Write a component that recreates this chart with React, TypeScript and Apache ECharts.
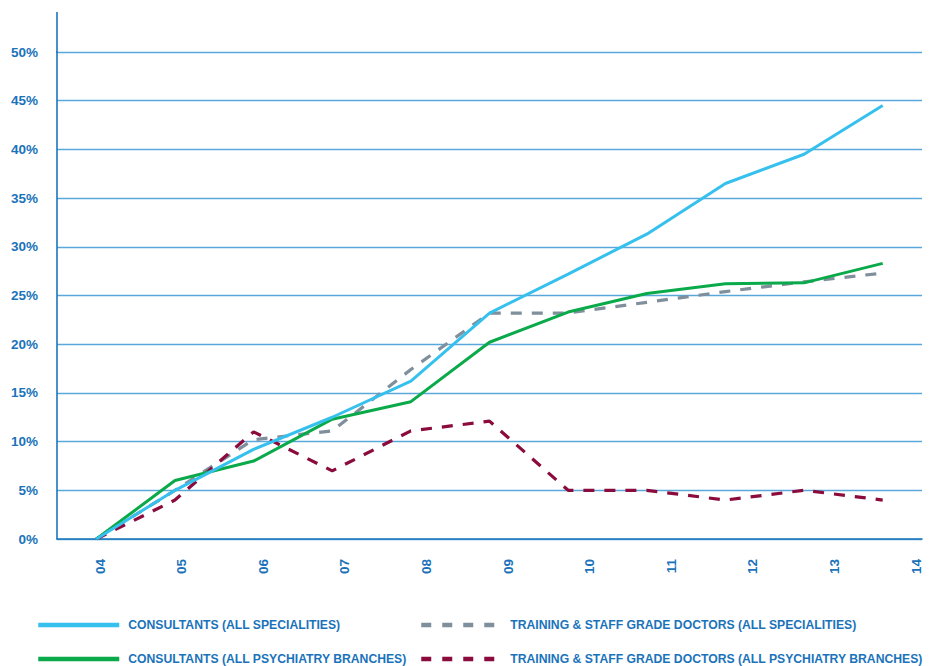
import React, { useEffect, useRef } from "react";
import * as echarts from "echarts";

const years = ["04", "05", "06", "07", "08", "09", "10", "11", "12", "13", "14"];
const yTickLabels = ["0%", "5%", "10%", "15%", "20%", "25%", "30%", "35%", "40%", "45%", "50%"];

const nameConsAll = "CONSULTANTS (ALL SPECIALITIES)";
const nameConsPsych = "CONSULTANTS (ALL PSYCHIATRY BRANCHES)";
const nameTrainAll = "TRAINING & STAFF GRADE DOCTORS (ALL SPECIALITIES)";
const nameTrainPsych = "TRAINING & STAFF GRADE DOCTORS (ALL PSYCHIATRY BRANCHES)";

const consAll = [0, 5.0, 9.2, 12.5, 16.2, 23.2, 27.2, 31.3, 36.5, 39.5, 44.5];
const consPsych = [0, 6.0, 8.0, 12.3, 14.1, 20.2, 23.3, 25.2, 26.2, 26.3, 28.3];
const trainAll = [0, 5.0, 10.2, 11.1, 17.4, 23.2, 23.2, 24.3, 25.4, 26.4, 27.3];
const trainPsych = [0, 4.0, 11.0, 7.0, 11.1, 12.1, 5.0, 5.0, 4.0, 5.0, 4.0];

const C_CYAN = "#35c0ee";
const C_GREEN = "#0aa94a";
const C_GRAY = "#7f8f9b";
const C_MAROON = "#8a0b3c";
const C_AXIS = "#1b75bb";
const C_GRID = "#5aa7d9";
const C_TEXT = "#1a73ba";
const FONT = "'Liberation Sans', Arial, sans-serif";

function legendItem(name: string, left: number, top: number, width: number, gap: number, dashType?: number[]) {
  return {
    orient: "horizontal",
    left,
    top,
    itemWidth: width,
    itemHeight: 12,
    padding: 0,
    selectedMode: false,
    data: [name],
    lineStyle: dashType ? { width: 4.5, type: dashType } : { width: 4.5 },
    itemStyle: { opacity: 0 },
    textStyle: {
      color: C_TEXT,
      fontFamily: FONT,
      fontWeight: "bold",
      fontSize: 12.2,
      lineHeight: 12,
      padding: [0, 0, 0, gap],
    },
  };
}

export default function App() {
  const ref = useRef<HTMLDivElement>(null);

  useEffect(() => {
    if (!ref.current) return;
    const chart = echarts.init(ref.current, undefined, { renderer: "svg" });
    const dash = [11, 10];
    const option: any = {
      animation: false,
      backgroundColor: "#ffffff",
      grid: [
        { left: 57, right: 15, top: 52, bottom: 127 },
        { left: 100, right: 21, top: 52, bottom: 127 },
      ],
      xAxis: [
        {
          gridIndex: 0,
          type: "category",
          data: years,
          boundaryGap: true,
          axisLine: { show: true, lineStyle: { color: C_AXIS, width: 1.6 } },
          axisTick: { show: false },
          axisLabel: { show: false },
          splitLine: { show: false },
        },
        {
          gridIndex: 1,
          type: "category",
          data: years,
          boundaryGap: false,
          axisLine: { show: false },
          axisTick: { show: false },
          axisLabel: {
            show: true,
            rotate: 90,
            margin: 20,
            color: C_TEXT,
            fontFamily: FONT,
            fontWeight: "bold",
            fontSize: 13.5,
          },
          splitLine: { show: false },
        },
      ],
      yAxis: [
        {
          gridIndex: 0,
          type: "value",
          min: 0,
          max: 50,
          interval: 5,
          axisLine: { show: true, lineStyle: { color: C_AXIS, width: 1.6 } },
          axisTick: { show: false },
          axisLabel: {
            margin: 19,
            color: C_TEXT,
            fontFamily: FONT,
            fontWeight: "bold",
            fontSize: 13.5,
            formatter: (v: number) => yTickLabels[Math.round(v / 5)] ?? "",
          },
          splitLine: { show: true, lineStyle: { color: C_GRID, width: 1.3 } },
        },
        { gridIndex: 1, type: "value", show: false, min: 0, max: 50 },
      ],
      legend: [
        legendItem(nameConsAll, 36, 619, 81, 4),
        legendItem(nameConsPsych, 36, 653, 81, 4),
        legendItem(nameTrainAll, 419, 619, 73, 11, [10, 11]),
        legendItem(nameTrainPsych, 419, 653, 73, 11, [10, 11]),
      ],
      graphic: [
        {
          type: "line",
          shape: { x1: 57, y1: 12, x2: 57, y2: 53 },
          style: { stroke: C_AXIS, lineWidth: 1.6 },
          silent: true,
        },
      ],
      series: [
        {
          name: nameTrainAll,
          type: "line",
          xAxisIndex: 0,
          yAxisIndex: 0,
          data: trainAll,
          symbol: "none",
          color: C_GRAY,
          lineStyle: { color: C_GRAY, width: 3.2, type: dash },
          z: 2,
        },
        {
          name: nameTrainPsych,
          type: "line",
          xAxisIndex: 0,
          yAxisIndex: 0,
          data: trainPsych,
          symbol: "none",
          color: C_MAROON,
          lineStyle: { color: C_MAROON, width: 3.2, type: dash },
          z: 3,
        },
        {
          name: nameConsPsych,
          type: "line",
          xAxisIndex: 0,
          yAxisIndex: 0,
          data: consPsych,
          symbol: "none",
          color: C_GREEN,
          lineStyle: { color: C_GREEN, width: 3 },
          z: 4,
        },
        {
          name: nameConsAll,
          type: "line",
          xAxisIndex: 0,
          yAxisIndex: 0,
          data: consAll,
          symbol: "none",
          color: C_CYAN,
          lineStyle: { color: C_CYAN, width: 3 },
          z: 5,
        },
      ],
    };
    chart.setOption(option);
    return () => chart.dispose();
  }, []);

  return (
    <div
      ref={ref}
      style={{ position: "fixed", left: 0, top: 0, width: 937, height: 666 }}
    />
  );
}
